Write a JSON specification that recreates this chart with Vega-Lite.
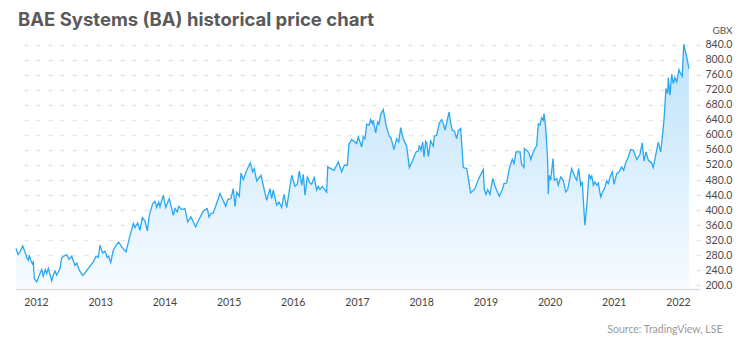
{
  "$schema": "https://vega.github.io/schema/vega-lite/v6.json",
  "width": 685,
  "height": 269,
  "autosize": {"type": "none"},
  "padding": {"left": 15, "top": 20, "right": 50, "bottom": 64},
  "background": "white",
  "title": {
    "text": "BAE Systems (BA) historical price chart",
    "anchor": "start",
    "frame": "group",
    "font": "Inter",
    "fontSize": 18.5,
    "fontWeight": "bold",
    "color": "#5a5a5a",
    "baseline": "alphabetic",
    "offset": 0,
    "dy": 24,
    "dx": 3
  },
  "config": {
    "view": {"stroke": null},
    "font": "Lato"
  },
  "data": {
    "values": [
      {"t": 2011.689, "price": 297.7}, {"t": 2011.720, "price": 282}, {"t": 2011.751, "price": 288.6},
      {"t": 2011.793, "price": 304.6}, {"t": 2011.829, "price": 288.6}, {"t": 2011.855, "price": 273.7},
      {"t": 2011.880, "price": 266.5}, {"t": 2011.896, "price": 280}, {"t": 2011.917, "price": 266.5},
      {"t": 2011.942, "price": 257.7}, {"t": 2011.958, "price": 262}, {"t": 2011.974, "price": 217.8},
      {"t": 2012.011, "price": 208.8}, {"t": 2012.051, "price": 226.6}, {"t": 2012.089, "price": 241.8},
      {"t": 2012.114, "price": 224}, {"t": 2012.145, "price": 241.8}, {"t": 2012.167, "price": 231},
      {"t": 2012.192, "price": 244.4}, {"t": 2012.218, "price": 229}, {"t": 2012.245, "price": 211.5},
      {"t": 2012.269, "price": 226.6}, {"t": 2012.296, "price": 238}, {"t": 2012.322, "price": 226.6},
      {"t": 2012.374, "price": 244.4}, {"t": 2012.400, "price": 273.7}, {"t": 2012.478, "price": 281.6},
      {"t": 2012.514, "price": 269}, {"t": 2012.556, "price": 277}, {"t": 2012.607, "price": 253},
      {"t": 2012.634, "price": 259}, {"t": 2012.674, "price": 240}, {"t": 2012.727, "price": 226.6},
      {"t": 2012.748, "price": 229}, {"t": 2012.841, "price": 250.6}, {"t": 2012.893, "price": 262},
      {"t": 2012.935, "price": 277}, {"t": 2012.970, "price": 273.7}, {"t": 2012.997, "price": 306.4},
      {"t": 2013.039, "price": 286}, {"t": 2013.075, "price": 290.5}, {"t": 2013.111, "price": 273.7},
      {"t": 2013.132, "price": 277}, {"t": 2013.164, "price": 260.4}, {"t": 2013.204, "price": 293},
      {"t": 2013.246, "price": 306.4}, {"t": 2013.288, "price": 315}, {"t": 2013.335, "price": 302},
      {"t": 2013.402, "price": 288.6}, {"t": 2013.453, "price": 324}, {"t": 2013.516, "price": 364},
      {"t": 2013.542, "price": 353.5}, {"t": 2013.584, "price": 365.8}, {"t": 2013.620, "price": 346},
      {"t": 2013.656, "price": 380}, {"t": 2013.698, "price": 371}, {"t": 2013.734, "price": 344.5},
      {"t": 2013.765, "price": 386}, {"t": 2013.818, "price": 417.4}, {"t": 2013.854, "price": 423.5},
      {"t": 2013.880, "price": 406.7}, {"t": 2013.911, "price": 421.7}, {"t": 2013.931, "price": 408.4},
      {"t": 2013.958, "price": 426}, {"t": 2013.983, "price": 439.5}, {"t": 2014.020, "price": 406.7},
      {"t": 2014.076, "price": 430.7}, {"t": 2014.139, "price": 386}, {"t": 2014.165, "price": 404},
      {"t": 2014.201, "price": 395}, {"t": 2014.223, "price": 410}, {"t": 2014.269, "price": 401.4},
      {"t": 2014.321, "price": 404}, {"t": 2014.363, "price": 368.5}, {"t": 2014.414, "price": 381.8},
      {"t": 2014.450, "price": 368.5}, {"t": 2014.488, "price": 355}, {"t": 2014.519, "price": 368.5},
      {"t": 2014.606, "price": 397.7}, {"t": 2014.668, "price": 404}, {"t": 2014.695, "price": 381.8},
      {"t": 2014.726, "price": 390.8}, {"t": 2014.762, "price": 392.4}, {"t": 2014.799, "price": 410},
      {"t": 2014.866, "price": 444}, {"t": 2014.902, "price": 430.7}, {"t": 2014.955, "price": 410},
      {"t": 2014.986, "price": 428}, {"t": 2015.037, "price": 430.7}, {"t": 2015.073, "price": 457},
      {"t": 2015.100, "price": 410}, {"t": 2015.126, "price": 448}, {"t": 2015.167, "price": 436.8},
      {"t": 2015.193, "price": 498.8}, {"t": 2015.229, "price": 481}, {"t": 2015.282, "price": 506},
      {"t": 2015.338, "price": 525.5}, {"t": 2015.375, "price": 501.5}, {"t": 2015.400, "price": 510.5},
      {"t": 2015.438, "price": 477.5}, {"t": 2015.505, "price": 492.7}, {"t": 2015.593, "price": 426},
      {"t": 2015.645, "price": 457}, {"t": 2015.671, "price": 430.7}, {"t": 2015.696, "price": 452.8},
      {"t": 2015.749, "price": 413}, {"t": 2015.785, "price": 421.7}, {"t": 2015.827, "price": 406.7},
      {"t": 2015.863, "price": 442}, {"t": 2015.905, "price": 406.7}, {"t": 2015.983, "price": 492.7},
      {"t": 2016.034, "price": 463.4}, {"t": 2016.070, "price": 468.8}, {"t": 2016.101, "price": 504},
      {"t": 2016.139, "price": 466}, {"t": 2016.164, "price": 495.4}, {"t": 2016.190, "price": 439.5},
      {"t": 2016.226, "price": 488}, {"t": 2016.268, "price": 472}, {"t": 2016.294, "price": 468.8},
      {"t": 2016.335, "price": 486.6}, {"t": 2016.372, "price": 452.8}, {"t": 2016.397, "price": 463.4},
      {"t": 2016.424, "price": 454.6}, {"t": 2016.460, "price": 463.4}, {"t": 2016.528, "price": 448},
      {"t": 2016.544, "price": 515}, {"t": 2016.642, "price": 506}, {"t": 2016.709, "price": 528},
      {"t": 2016.762, "price": 501.5}, {"t": 2016.802, "price": 519.3}, {"t": 2016.849, "price": 519.3},
      {"t": 2016.875, "price": 575}, {"t": 2016.917, "price": 587.7}, {"t": 2016.995, "price": 577},
      {"t": 2017.020, "price": 594.6}, {"t": 2017.047, "price": 581}, {"t": 2017.073, "price": 568},
      {"t": 2017.098, "price": 594.6}, {"t": 2017.125, "price": 590}, {"t": 2017.151, "price": 628.4},
      {"t": 2017.187, "price": 625.8}, {"t": 2017.213, "price": 641}, {"t": 2017.238, "price": 630.3},
      {"t": 2017.254, "price": 639}, {"t": 2017.291, "price": 605.3}, {"t": 2017.322, "price": 634.6},
      {"t": 2017.343, "price": 628.4}, {"t": 2017.369, "price": 655}, {"t": 2017.410, "price": 667.5},
      {"t": 2017.452, "price": 625.8}, {"t": 2017.503, "price": 596.5}, {"t": 2017.530, "price": 592},
      {"t": 2017.576, "price": 561}, {"t": 2017.618, "price": 590}, {"t": 2017.650, "price": 581},
      {"t": 2017.681, "price": 619.6}, {"t": 2017.721, "price": 590}, {"t": 2017.774, "price": 570},
      {"t": 2017.815, "price": 513}, {"t": 2017.868, "price": 532.6}, {"t": 2017.919, "price": 554.7},
      {"t": 2017.955, "price": 557.4}, {"t": 2017.970, "price": 572.5}, {"t": 2017.997, "price": 559},
      {"t": 2018.023, "price": 581}, {"t": 2018.044, "price": 541.5}, {"t": 2018.070, "price": 583},
      {"t": 2018.086, "price": 578.7}, {"t": 2018.111, "price": 543}, {"t": 2018.148, "price": 584},
      {"t": 2018.189, "price": 570}, {"t": 2018.204, "price": 596.5}, {"t": 2018.241, "price": 599},
      {"t": 2018.282, "price": 632}, {"t": 2018.319, "price": 641}, {"t": 2018.344, "price": 630.3},
      {"t": 2018.371, "price": 612.5}, {"t": 2018.397, "price": 632}, {"t": 2018.433, "price": 661},
      {"t": 2018.460, "price": 632}, {"t": 2018.484, "price": 612.5}, {"t": 2018.516, "price": 610.6},
      {"t": 2018.553, "price": 590}, {"t": 2018.578, "price": 610.6}, {"t": 2018.615, "price": 617},
      {"t": 2018.656, "price": 513}, {"t": 2018.709, "price": 510.5}, {"t": 2018.771, "price": 445.6},
      {"t": 2018.838, "price": 457}, {"t": 2018.889, "price": 481}, {"t": 2018.967, "price": 508},
      {"t": 2018.983, "price": 454.6}, {"t": 2019.009, "price": 442}, {"t": 2019.036, "price": 454.6},
      {"t": 2019.072, "price": 442}, {"t": 2019.114, "price": 484}, {"t": 2019.150, "price": 463.4},
      {"t": 2019.217, "price": 436.8}, {"t": 2019.270, "price": 457}, {"t": 2019.290, "price": 470.6},
      {"t": 2019.332, "price": 472}, {"t": 2019.372, "price": 510.5}, {"t": 2019.419, "price": 535},
      {"t": 2019.446, "price": 523.8}, {"t": 2019.477, "price": 554.7}, {"t": 2019.539, "price": 554.7},
      {"t": 2019.565, "price": 521}, {"t": 2019.601, "price": 513}, {"t": 2019.606, "price": 563.8},
      {"t": 2019.653, "price": 557.4}, {"t": 2019.679, "price": 552}, {"t": 2019.706, "price": 534.5},
      {"t": 2019.746, "price": 554.7}, {"t": 2019.773, "price": 563.8}, {"t": 2019.799, "price": 572},
      {"t": 2019.824, "price": 629}, {"t": 2019.850, "price": 625.8}, {"t": 2019.877, "price": 646},
      {"t": 2019.902, "price": 639}, {"t": 2019.913, "price": 657}, {"t": 2019.939, "price": 621},
      {"t": 2019.970, "price": 532.6}, {"t": 2019.980, "price": 442}, {"t": 2019.991, "price": 492.7},
      {"t": 2020.017, "price": 479.4}, {"t": 2020.053, "price": 537}, {"t": 2020.073, "price": 479.4},
      {"t": 2020.111, "price": 484}, {"t": 2020.136, "price": 466}, {"t": 2020.173, "price": 488},
      {"t": 2020.213, "price": 479.4}, {"t": 2020.251, "price": 448}, {"t": 2020.282, "price": 454.6},
      {"t": 2020.344, "price": 510.5}, {"t": 2020.396, "price": 488}, {"t": 2020.422, "price": 479.4},
      {"t": 2020.453, "price": 510.5}, {"t": 2020.484, "price": 466}, {"t": 2020.509, "price": 475},
      {"t": 2020.540, "price": 386}, {"t": 2020.551, "price": 359.7}, {"t": 2020.578, "price": 408.4},
      {"t": 2020.614, "price": 495.4}, {"t": 2020.640, "price": 484}, {"t": 2020.656, "price": 492.7},
      {"t": 2020.681, "price": 466}, {"t": 2020.707, "price": 475}, {"t": 2020.734, "price": 466},
      {"t": 2020.759, "price": 472}, {"t": 2020.796, "price": 435}, {"t": 2020.827, "price": 448},
      {"t": 2020.863, "price": 461.6}, {"t": 2020.889, "price": 477.5}, {"t": 2020.914, "price": 470.6},
      {"t": 2020.941, "price": 488}, {"t": 2020.977, "price": 501.5}, {"t": 2021.003, "price": 468.8},
      {"t": 2021.045, "price": 497}, {"t": 2021.070, "price": 498.8}, {"t": 2021.123, "price": 514.8},
      {"t": 2021.154, "price": 506}, {"t": 2021.185, "price": 525.5}, {"t": 2021.226, "price": 541.5},
      {"t": 2021.263, "price": 561}, {"t": 2021.304, "price": 559}, {"t": 2021.357, "price": 534.5},
      {"t": 2021.408, "price": 548.6}, {"t": 2021.444, "price": 578.7}, {"t": 2021.470, "price": 530},
      {"t": 2021.502, "price": 554.7}, {"t": 2021.537, "price": 532.6}, {"t": 2021.590, "price": 525.5},
      {"t": 2021.615, "price": 513}, {"t": 2021.653, "price": 546}, {"t": 2021.693, "price": 581},
      {"t": 2021.731, "price": 554.7}, {"t": 2021.756, "price": 594.6}, {"t": 2021.782, "price": 639},
      {"t": 2021.813, "price": 723.4}, {"t": 2021.840, "price": 710}, {"t": 2021.849, "price": 752.7},
      {"t": 2021.875, "price": 705.6}, {"t": 2021.902, "price": 761.5}, {"t": 2021.927, "price": 736.7},
      {"t": 2021.953, "price": 752.7}, {"t": 2021.980, "price": 741}, {"t": 2022.016, "price": 774},
      {"t": 2022.036, "price": 765}, {"t": 2022.067, "price": 756}, {"t": 2022.089, "price": 841.3},
      {"t": 2022.136, "price": 807.5}, {"t": 2022.171, "price": 776.6}
    ]
  },
  "encoding": {
    "x": {
      "field": "t",
      "type": "quantitative",
      "scale": {"domain": [2011.673, 2022.343], "nice": false, "zero": false},
      "axis": {
        "values": [2012, 2013, 2014, 2015, 2016, 2017, 2018, 2019, 2020, 2021, 2022],
        "format": "d",
        "grid": false,
        "ticks": false,
        "labelPadding": 8,
        "labelFont": "Lato",
        "labelFontSize": 10.5,
        "labelColor": "#444444",
        "domain": true,
        "domainColor": "#dcdcdc",
        "domainWidth": 1.5,
        "title": "Source: TradingView, LSE",
        "titleFont": "Lato",
        "titleFontSize": 10.5,
        "titleFontWeight": "normal",
        "titleColor": "#9a9a9a",
        "titleAnchor": "end",
        "titleAlign": "right",
        "titleBaseline": "middle",
        "titleX": 707,
        "titleY": 40
      }
    },
    "y": {
      "field": "price",
      "type": "quantitative",
      "scale": {"domain": [190, 905.8], "nice": false, "zero": false},
      "axis": {
        "orient": "right",
        "values": [200, 240, 280, 320, 360, 400, 440, 480, 520, 560, 600, 640, 680, 720, 760, 800, 840],
        "format": ".1f",
        "grid": true,
        "gridColor": "#e4e4e4",
        "gridDash": [4, 8],
        "gridWidth": 1.5,
        "ticks": false,
        "domain": false,
        "labelPadding": 5,
        "labelFont": "Lato",
        "labelFontSize": 10.5,
        "labelColor": "#4a4a4a",
        "title": "GBX",
        "titleAngle": 0,
        "titleFont": "Lato",
        "titleFontSize": 10,
        "titleFontWeight": "normal",
        "titleColor": "#555555",
        "titleAlign": "center",
        "titleBaseline": "middle",
        "titleX": 22,
        "titleY": 10
      }
    }
  },
  "layer": [
    {
      "mark": {
        "type": "area",
        "clip": true,
        "color": {
          "gradient": "linear",
          "x1": 0, "y1": 0, "x2": 0, "y2": 1,
          "stops": [
            {"offset": 0, "color": "#bde2fa"},
            {"offset": 1, "color": "#f7fbff"}
          ]
        }
      },
      "encoding": {"y2": {"datum": 190}}
    },
    {
      "mark": {"type": "line", "color": "#29a8f1", "strokeWidth": 1.3}
    }
  ]
}
